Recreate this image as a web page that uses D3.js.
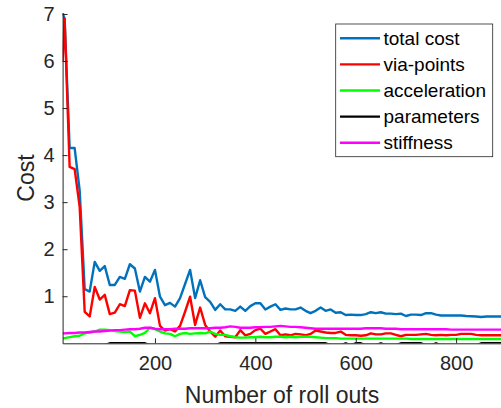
<!DOCTYPE html>
<html>
<head>
<meta charset="utf-8">
<script src="https://cdnjs.cloudflare.com/ajax/libs/d3/7.8.5/d3.min.js"></script>
<style>
	body { margin: 0; background: #fff; }
	svg { display: block; font-family: 'Liberation Sans', Arial, Helvetica, sans-serif; }
</style>
</head>
<body>
<div id="chart"></div>
<script>
const rollouts = [16, 20, 30, 40, 50, 60, 70, 80, 90, 100, 110, 120, 130, 140, 150, 160, 170, 180, 190, 200,
	210, 220, 230, 240, 250, 260, 270, 280, 290, 300, 310, 320, 330, 340, 350, 360, 370, 380, 390, 400,
	410, 420, 430, 440, 450, 460, 470, 480, 490, 500, 510, 520, 530, 540, 550, 560, 570, 580, 590, 600,
	610, 620, 630, 640, 650, 660, 670, 680, 690, 700, 710, 720, 730, 740, 750, 760, 770, 780, 790, 800,
	810, 820, 830, 840, 850, 860, 870, 880, 890]

const totalCost = [7.02, 6.9, 4.15, 4.15, 3.25, 1.15, 1.10, 1.73, 1.54, 1.64, 1.24, 1.24, 1.41, 1.37, 1.68, 1.59, 1.10, 1.41, 1.31, 1.56,
	0.99, 0.81, 0.86, 0.78, 0.96, 1.26, 1.56, 0.96, 1.34, 0.98, 0.88, 0.71, 0.83, 0.72, 0.72, 0.69, 0.78, 0.69, 0.79, 0.85,
	0.85, 0.72, 0.78, 0.83, 0.71, 0.74, 0.72, 0.72, 0.76, 0.69, 0.64, 0.69, 0.76, 0.69, 0.72, 0.65, 0.66, 0.60, 0.61, 0.60,
	0.60, 0.62, 0.66, 0.64, 0.66, 0.63, 0.63, 0.62, 0.63, 0.58, 0.61, 0.61, 0.60, 0.64, 0.64, 0.61, 0.59, 0.59, 0.59, 0.59,
	0.59, 0.58, 0.575, 0.57, 0.56, 0.57, 0.57, 0.57, 0.57]

const viaPoints = [6.0, 6.9, 3.75, 3.7, 2.9, 0.67, 0.57, 1.20, 0.93, 1.03, 0.62, 0.65, 0.83, 0.79, 1.13, 1.12, 0.54, 0.85, 0.64, 0.96,
	0.37, 0.27, 0.30, 0.25, 0.37, 0.67, 0.99, 0.39, 0.76, 0.39, 0.25, 0.14, 0.27, 0.15, 0.14, 0.13, 0.28, 0.17, 0.20, 0.28,
	0.31, 0.20, 0.25, 0.30, 0.17, 0.19, 0.17, 0.20, 0.19, 0.17, 0.20, 0.27, 0.25, 0.23, 0.22, 0.22, 0.25, 0.18, 0.17, 0.17,
	0.16, 0.17, 0.21, 0.19, 0.19, 0.21, 0.21, 0.18, 0.15, 0.18, 0.18, 0.18, 0.19, 0.20, 0.18, 0.17, 0.18, 0.17, 0.18, 0.18,
	0.20, 0.20, 0.20, 0.18, 0.17, 0.17, 0.17, 0.17, 0.17]

const acceleration = [0.10, 0.11, 0.13, 0.15, 0.16, 0.21, 0.23, 0.25, 0.29, 0.29, 0.28, 0.26, 0.25, 0.24, 0.25, 0.15, 0.18, 0.22, 0.33, 0.30,
	0.25, 0.21, 0.20, 0.15, 0.20, 0.22, 0.20, 0.21, 0.22, 0.21, 0.25, 0.20, 0.18, 0.18, 0.15, 0.13, 0.12, 0.12, 0.13, 0.13,
	0.14, 0.13, 0.13, 0.14, 0.14, 0.13, 0.14, 0.13, 0.14, 0.14, 0.14, 0.13, 0.12, 0.11, 0.11, 0.11, 0.10, 0.10, 0.10, 0.10,
	0.10, 0.10, 0.10, 0.10, 0.10, 0.10, 0.10, 0.10, 0.10, 0.10, 0.09, 0.09, 0.09, 0.09, 0.09, 0.09, 0.09, 0.09, 0.09, 0.09,
	0.09, 0.09, 0.09, 0.09, 0.09, 0.09, 0.09, 0.09, 0.09]

// sits on the lower axis edge, dips below it (clipped) in the gaps
const parameters = [-0.04, -0.04, -0.04, -0.04, -0.04, -0.04, -0.04, -0.04, -0.04, -0.04, 0, 0, 0, 0, 0, 0, 0, 0, -0.04, -0.04,
	-0.04, -0.04, -0.04, -0.04, -0.04, -0.04, -0.04, -0.04, -0.04, -0.04, -0.04, -0.04, 0, 0, 0, 0, 0, 0, 0, 0,
	0, 0, 0, 0, 0, 0, 0, 0, 0, 0, 0, 0, 0, 0, -0.04, -0.04, -0.04, 0, -0.04, 0,
	0, -0.04, -0.04, -0.04, 0, -0.04, -0.04, -0.04, 0, 0, 0, 0, 0, -0.04, -0.04, 0, -0.04, -0.04, -0.04, -0.04,
	-0.04, -0.04, -0.04, -0.04, 0, 0, 0, 0, 0]

const stiffness = [0.21, 0.21, 0.22, 0.22, 0.23, 0.23, 0.24, 0.25, 0.25, 0.26, 0.27, 0.28, 0.28, 0.29, 0.30, 0.30, 0.31, 0.33, 0.33, 0.31,
	0.30, 0.30, 0.30, 0.31, 0.31, 0.31, 0.32, 0.32, 0.32, 0.32, 0.32, 0.33, 0.33, 0.34, 0.36, 0.35, 0.33, 0.33, 0.33, 0.34,
	0.34, 0.35, 0.35, 0.36, 0.37, 0.36, 0.35, 0.35, 0.34, 0.33, 0.32, 0.31, 0.31, 0.31, 0.31, 0.31, 0.31, 0.31, 0.31, 0.31,
	0.31, 0.32, 0.32, 0.32, 0.32, 0.31, 0.31, 0.31, 0.30, 0.30, 0.30, 0.30, 0.30, 0.30, 0.30, 0.30, 0.30, 0.30, 0.29, 0.29,
	0.29, 0.29, 0.29, 0.29, 0.29, 0.29, 0.29, 0.29, 0.29]

const seriesNames = ['total cost', 'via-points', 'acceleration', 'parameters', 'stiffness']
const seriesColors = ['#0072BD', '#FF0000', '#00FF00', '#000000', '#FF00FF']
const xTicks = [200, 400, 600, 800]
const yTicks = [1, 2, 3, 4, 5, 6, 7]

const margin = { top: 13, right: 0, bottom: 65, left: 62.6 }
const width = 501, height = 408

let svg = d3.select('#chart')
.append('svg')
.attr('width', width)
.attr('height', height)

let xScale = d3.scaleLinear()
.domain([16, 890])
.range([margin.left, margin.left + 438.7])

let yScale = d3.scaleLinear()
.domain([0, 7.02])
.range([height - margin.bottom + 0.3, margin.top])

svg.append('clipPath')
.attr('id', 'plotclip')
.append('rect')
.attr('x', margin.left)
.attr('y', margin.top)
.attr('width', 440)
.attr('height', yScale(0) - margin.top)

let allSeries = [totalCost, viaPoints, acceleration, parameters, stiffness]

let lineFunc = d3.line()
.x((d, i) => xScale(rollouts[i]))
.y(d => yScale(d))

svg.append('g')
.attr('clip-path', 'url(#plotclip)')
.selectAll('path')
.data(allSeries)
.join('path')
.attr('d', lineFunc)
.attr('fill', 'none')
.attr('stroke', (d, i) => seriesColors[i])
.attr('stroke-width', 2.4)
.attr('stroke-linejoin', 'round')

// axes
let xAxis = svg.append('g')
.attr('transform', `translate(0, ${yScale(0)})`)
.call(d3.axisBottom(xScale).tickValues(xTicks).tickFormat(d3.format('d'))
	.tickSize(-5).tickSizeOuter(0).tickPadding(13))

let yAxis = svg.append('g')
.attr('transform', `translate(${margin.left}, 0)`)
.call(d3.axisLeft(yScale).tickValues(yTicks).tickFormat(d3.format('d'))
	.tickSize(-5).tickSizeOuter(0).tickPadding(8))

for (let ax of [xAxis, yAxis]) {
	ax.select('.domain').attr('stroke', '#262626').attr('stroke-width', 1)
	ax.selectAll('.tick line').attr('stroke', '#262626')
	ax.selectAll('.tick text').attr('fill', '#262626').style('font-size', '20px')
		.style('font-family', "'Liberation Sans', Arial, sans-serif")
}

svg.append('text')
.attr('x', 282)
.attr('y', 403)
.attr('text-anchor', 'middle')
.attr('fill', '#262626')
.style('font-size', '23px')
.text('Number of roll outs')

svg.append('text')
.attr('transform', 'translate(34, 178) rotate(-90)')
.attr('text-anchor', 'middle')
.attr('fill', '#262626')
.style('font-size', '23px')
.text('Cost')

// legend
let legend = svg.append('g')

legend.append('rect')
.attr('x', 335.7)
.attr('y', 24)
.attr('width', 157)
.attr('height', 132.7)
.attr('fill', '#fff')
.attr('stroke', '#262626')
.attr('stroke-width', 0.8)

let rows = legend.selectAll('.row')
.data(seriesNames)
.join('g')
.attr('class', 'row')
.attr('transform', (d, i) => `translate(0, ${38.3 + i * 26.1})`)

rows.append('line')
.attr('x1', 340)
.attr('x2', 380)
.attr('stroke', (d, i) => seriesColors[i])
.attr('stroke-width', 2.4)

rows.append('text')
.attr('x', 383.5)
.attr('dy', '0.35em')
.attr('fill', '#000')
.style('font-size', '19px')
.text(d => d)
</script>
</body>
</html>
